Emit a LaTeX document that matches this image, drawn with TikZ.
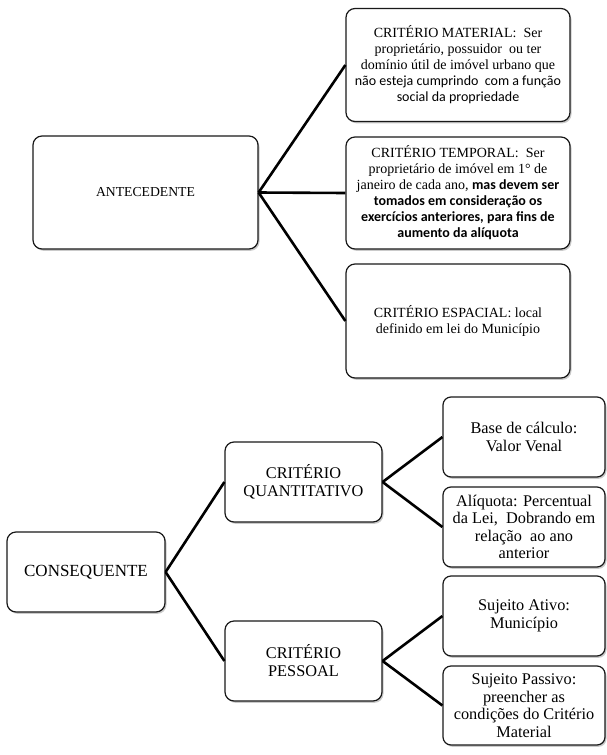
\documentclass[tikz,border=0pt]{standalone}
\usepackage{fontspec}
\setmainfont{Liberation Serif}
\newfontfamily\calib{Carlito}
\usetikzlibrary{shadows}
\tikzset{
  box/.style={draw=black!90, line width=1.2pt, rounded corners=9pt, fill=white,
    inner sep=0pt, align=center,
    drop shadow={opacity=0.35, shadow xshift=1.5pt, shadow yshift=-1.8pt, fill=black!60}},
  topbox/.style={box, minimum width=224pt, minimum height=113pt, font=\fontsize{14}{16}\selectfont},
  midbox/.style={box, minimum width=157pt, minimum height=80pt, font=\fontsize{16.3}{18}\selectfont},
  smallbox/.style={box, rounded corners=8pt, minimum width=162pt, minimum height=80pt, font=\fontsize{16.3}{17.6}\selectfont},
  conn/.style={line width=2.6pt, black}
}
\begin{document}
\begin{tikzpicture}[x=1pt,y=-1pt]
\useasboundingbox (0,0) rectangle (607,755);
% top part
\node[topbox] (mat) at (458,65) {CRITÉRIO MATERIAL:\ \ Ser\\proprietário, possuidor\ \ ou ter\\domínio útil de imóvel urbano que\\{\calib não esteja cumprindo\ \ com a função}\\{\calib social da propriedade}};
\node[topbox, minimum height=112pt] (tem) at (458,193) {CRITÉRIO TEMPORAL:\ \ Ser\\proprietário de imóvel em 1° de\\janeiro de cada ano, {\calib\bfseries mas devem ser}\\{\calib\bfseries tomados em consideração os}\\{\calib\bfseries exercícios anteriores, para fins de}\\{\calib\bfseries aumento da alíquota}};
\node[topbox, minimum height=114pt] (esp) at (458,321) {CRITÉRIO ESPACIAL: local\\definido em lei do Município};
\node[topbox, minimum width=225pt, font=\fontsize{13.7}{16}\selectfont] (ant) at (145.5,192.5) {ANTECEDENTE};
\draw[conn] (ant.east) -- (mat.west);
\draw[conn] (ant.east) -- (tem.west);
\draw[conn] (ant.east) -- (esp.west);
% bottom part
\node[midbox, minimum width=158pt, font=\fontsize{17}{19}\selectfont] (con) at (86,572) {CONSEQUENTE};
\node[midbox] (qua) at (303.5,482) {CRITÉRIO\\QUANTITATIVO};
\node[midbox] (pes) at (303.5,661) {CRITÉRIO\\PESSOAL};
\node[smallbox] (bas) at (524,437) {Base de cálculo:\\Valor Venal};
\node[smallbox] (ali) at (524,527) {Alíquota: Percentual\\da Lei,\ \ Dobrando em\\relação\ \ ao ano\\anterior};
\node[smallbox] (sat) at (524,616) {Sujeito Ativo:\\Município};
\node[smallbox, minimum height=79pt] (spa) at (524,705.5) {Sujeito Passivo:\\preencher as\\condições do Critério\\Material};
\draw[conn] (con.east) -- (qua.west);
\draw[conn] (con.east) -- (pes.west);
\draw[conn] (qua.east) -- (bas.west);
\draw[conn] (qua.east) -- (ali.west);
\draw[conn] (pes.east) -- (sat.west);
\draw[conn] (pes.east) -- (spa.west);
\end{tikzpicture}
\end{document}
